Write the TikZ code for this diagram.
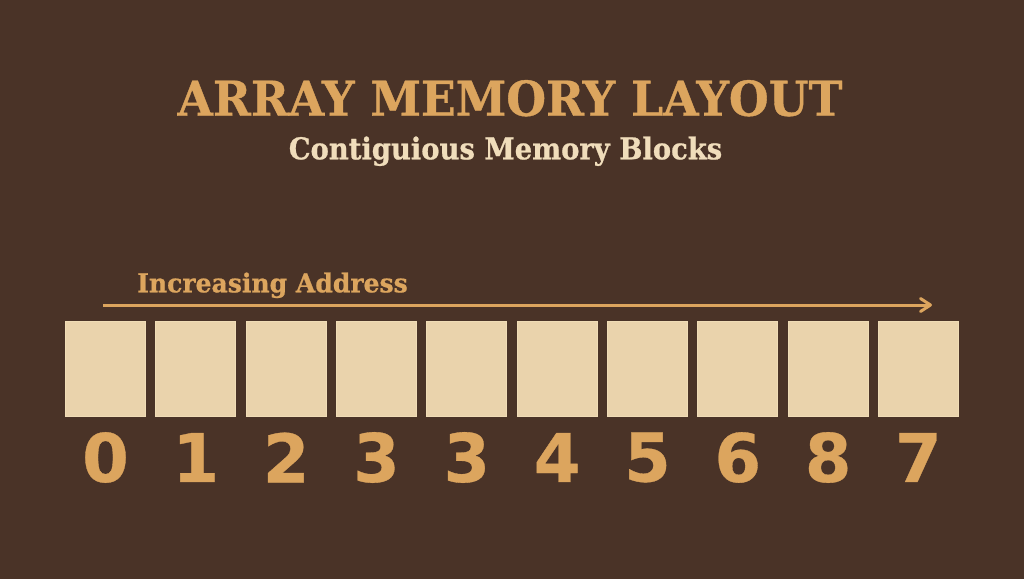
\documentclass[tikz,border=0pt]{standalone}
\usepackage{fontspec}
\setmainfont{DejaVu Serif}[BoldFont={DejaVu Serif Bold}]
\newfontfamily\slabfont{DejaVu Serif Bold}[FakeBold=0.8]
\newfontfamily\digitfont{DejaVu Sans Bold}[FakeBold=0.5]
\usetikzlibrary{positioning,arrows.meta}

\definecolor{bgbrown}{HTML}{4A3327}
\definecolor{titleorange}{HTML}{DCA55E}
\definecolor{subcream}{HTML}{F0DDBB}
\definecolor{cellfill}{HTML}{EAD3AC}
\definecolor{celledge}{HTML}{F0DCB6}

\begin{document}
\begin{tikzpicture}[x=1pt,y=1pt,>={Straight Barb[length=10pt,width=13pt,round]},
		node distance=90.33pt,on grid,
		cell/.style={draw=celledge,fill=cellfill,line width=1pt,minimum width=80pt,minimum height=95pt,inner sep=0pt},
		index/.style={text=titleorange,font=\digitfont\fontsize{67}{67}\selectfont,inner sep=0pt}]
		\fill[bgbrown] (0,0) rectangle (1024,579);
		
		\node[text=titleorange,font=\slabfont\fontsize{48}{48}\selectfont,anchor=base] (title) at (510,463.3) {\scalebox{0.951}[1]{ARRAY MEMORY LAYOUT}};
		\node[text=subcream,font=\slabfont\fontsize{30}{30}\selectfont,anchor=base] (subtitle) at (505.5,419.7) {\scalebox{0.913}[1]{Contiguious Memory Blocks}};
		
		\node[cell]         (c0)   at (105.5,210) {};
		\node[cell]         (c1)   [right=of c0] {};
		\node[cell]         (c2)   [right=of c1] {};
		\node[cell]         (c3)   [right=of c2] {};
		\node[cell]         (c4)   [right=of c3] {};
		\node[cell]         (c5)   [right=of c4] {};
		\node[cell]         (c6)   [right=of c5] {};
		\node[cell]         (c7)   [right=of c6] {};
		\node[cell]         (c8)   [right=of c7] {};
		\node[cell]         (c9)   [right=of c8] {};
		
		\node[index]        (i0)   [below=88.5pt of c0] {0};
		\node[index]        (i1)   [below=88.5pt of c1] {1};
		\node[index]        (i2)   [below=88.5pt of c2] {2};
		\node[index]        (i3)   [below=88.5pt of c3] {3};
		\node[index]        (i4)   [below=88.5pt of c4] {3};
		\node[index]        (i5)   [below=88.5pt of c5] {4};
		\node[index]        (i6)   [below=88.5pt of c6] {5};
		\node[index]        (i7)   [below=88.5pt of c7] {6};
		\node[index]        (i8)   [below=88.5pt of c8] {8};
		\node[index]        (i9)   [below=88.5pt of c9] {7};
		
		\coordinate (addr start) at (103,274);
		\coordinate (addr end) at (932,274);
		\draw[->,titleorange,line width=3pt] (addr start) -- (addr end);
		\node[text=titleorange,font=\slabfont\fontsize{26}{26}\selectfont,anchor=base west,inner sep=0pt] (addr) at (137,286.7) {\scalebox{0.964}[1]{Increasing Address}};
	\end{tikzpicture}
\end{document}
